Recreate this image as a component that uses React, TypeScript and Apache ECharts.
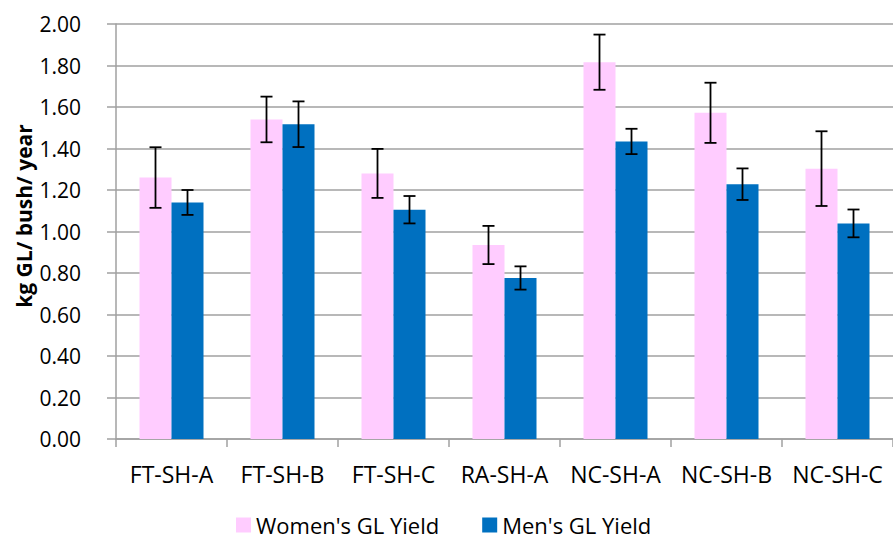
import React, { useEffect, useRef } from "react";
import * as echarts from "echarts";

const categories = ["FT-SH-A", "FT-SH-B", "FT-SH-C", "RA-SH-A", "NC-SH-A", "NC-SH-B", "NC-SH-C"];
const womenYield = [1.26, 1.54, 1.28, 0.935, 1.816, 1.572, 1.303];
const womenErr = [0.146, 0.11, 0.118, 0.092, 0.133, 0.145, 0.18];
const menYield = [1.14, 1.517, 1.105, 0.776, 1.434, 1.228, 1.039];
const menErr = [0.06, 0.11, 0.066, 0.056, 0.061, 0.076, 0.067];
const yTicks = { min: 0, max: 2, interval: 0.2 };
const seriesNames = ["Women's GL Yield", "Men's GL Yield"];
const yAxisTitle = "kg GL/ bush/ year";

const FONT = "'Open Sans', 'Noto Sans', sans-serif";
const BAR_W = 32;
const GRID_C = "#a0a0a0";

function errorSeries(values: number[], errs: number[], offset: number) {
  const data = values.map((v, i) => [i, v - errs[i], v + errs[i]]);
  return {
    type: "custom",
    silent: true,
    z: 10,
    data,
    renderItem: (params: any, api: any) => {
      const idx = api.value(0);
      const lo = api.coord([idx, api.value(1)]);
      const hi = api.coord([idx, api.value(2)]);
      const x = lo[0] + offset;
      const cap = 6;
      const style = { stroke: "#000", lineWidth: 1.8 };
      return {
        type: "group",
        children: [
          { type: "line", shape: { x1: x, y1: hi[1], x2: x, y2: lo[1] }, style },
          { type: "line", shape: { x1: x - cap, y1: hi[1], x2: x + cap, y2: hi[1] }, style },
          { type: "line", shape: { x1: x - cap, y1: lo[1], x2: x + cap, y2: lo[1] }, style },
        ],
      };
    },
  };
}

export default function App() {
  const ref = useRef<HTMLDivElement>(null);
  useEffect(() => {
    if (!ref.current) return;
    const chart = echarts.init(ref.current, null, { renderer: "svg" });
    chart.setOption({
      animation: false,
      backgroundColor: "#ffffff",
      grid: { left: 116, top: 24, width: 783, height: 415 },
      legend: {
        data: seriesNames,
        left: 236,
        top: 514,
        padding: 0,
        itemWidth: 15,
        itemHeight: 15,
        itemGap: 43,
        icon: "rect",
        textStyle: { fontFamily: FONT, fontSize: 22, color: "#000", lineHeight: 22 },
      },
      xAxis: {
        type: "category",
        data: categories,
        axisLine: { lineStyle: { color: GRID_C, width: 1.5 } },
        axisTick: { show: true, length: 8, lineStyle: { color: GRID_C, width: 1.5 } },
        axisLabel: {
          interval: 0,
          fontFamily: FONT,
          fontSize: 23,
          color: "#000",
          margin: 23,
          lineHeight: 24,
        },
      },
      yAxis: {
        type: "value",
        min: yTicks.min,
        max: yTicks.max,
        interval: yTicks.interval,
        axisLine: { show: true, lineStyle: { color: GRID_C, width: 1.5 } },
        axisTick: { show: true, length: 9, lineStyle: { color: GRID_C, width: 1.5 } },
        splitLine: { lineStyle: { color: GRID_C, width: 1.5 } },
        axisLabel: {
          fontFamily: FONT,
          fontSize: 21,
          color: "#000",
          margin: 35,
          formatter: (v: number) => v.toFixed(2),
        },
      },
      graphic: [
        {
          type: "text",
          x: 24,
          y: 216,
          rotation: Math.PI / 2,
          style: {
            text: yAxisTitle,
            fontFamily: FONT,
            fontSize: 21,
            fontWeight: "bold",
            fill: "#000",
            align: "center",
            verticalAlign: "middle",
          },
        },
      ],
      series: [
        {
          name: seriesNames[0],
          type: "bar",
          data: womenYield,
          barWidth: BAR_W,
          barGap: "0%",
          itemStyle: { color: "#FFCCFF" },
        },
        {
          name: seriesNames[1],
          type: "bar",
          data: menYield,
          barWidth: BAR_W,
          barGap: "0%",
          itemStyle: { color: "#0070C0" },
        },
        errorSeries(womenYield, womenErr, -BAR_W / 2),
        errorSeries(menYield, menErr, BAR_W / 2),
      ],
    });
    return () => chart.dispose();
  }, []);
  return (
    <div
      ref={ref}
      style={{ position: "fixed", left: 0, top: 0, width: 893, height: 541 }}
    />
  );
}
